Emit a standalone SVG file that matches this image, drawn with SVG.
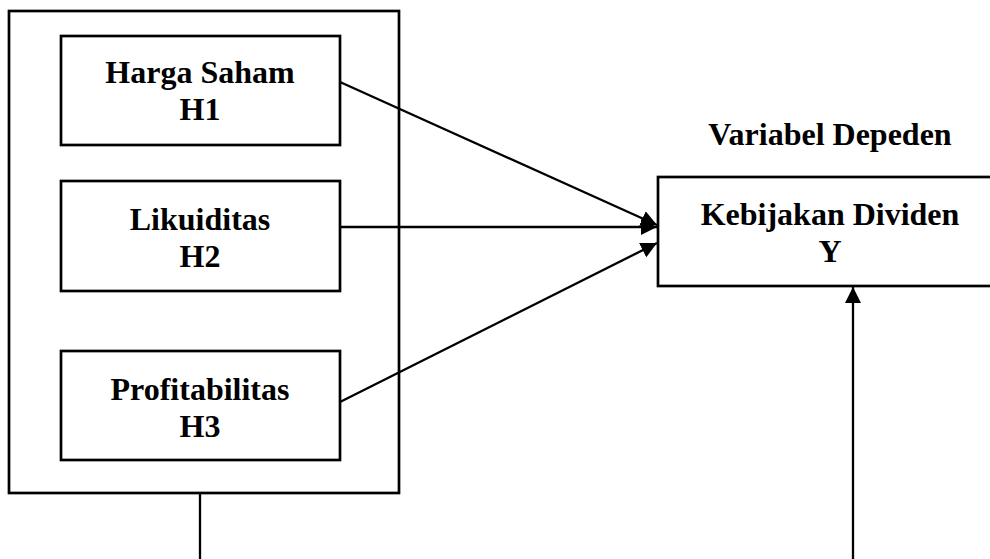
<svg xmlns="http://www.w3.org/2000/svg" width="990" height="559" viewBox="0 0 990 559">
<style>
.box{fill:#fff;stroke:#000;stroke-width:2.7}
.frame{fill:none;stroke:#000;stroke-width:2.7}
.t{font-family:"Liberation Serif","Times New Roman",serif;font-weight:bold;font-size:32px;text-anchor:middle;fill:#000}
.c{stroke:#000;stroke-width:2.3;fill:none}
</style>
<defs>
<marker id="ah" markerUnits="userSpaceOnUse" markerWidth="17" markerHeight="17" refX="16" refY="8" orient="auto">
<path d="M0,0 L16,8 L0,16 z" fill="#000"/>
</marker>
</defs>
<rect width="990" height="559" fill="#fff"/>
<g id="independent-frame">
<rect class="frame" x="9" y="11" width="390" height="482"/>
</g>
<g id="node-h1">
<rect class="box" x="61" y="36" width="279" height="109"/>
<text class="t" x="200" y="83">Harga Saham</text>
<text class="t" x="200" y="120">H1</text>
</g>
<g id="node-h2">
<rect class="box" x="61" y="181" width="279" height="110"/>
<text class="t" x="200" y="230">Likuiditas</text>
<text class="t" x="200" y="267">H2</text>
</g>
<g id="node-h3">
<rect class="box" x="61" y="351" width="279" height="109"/>
<text class="t" x="200" y="400">Profitabilitas</text>
<text class="t" x="200" y="437">H3</text>
</g>
<g id="label-dependent">
<text class="t" x="830" y="145">Variabel Depeden</text>
</g>
<g id="node-y">
<rect class="box" x="658" y="177" width="340" height="109"/>
<text class="t" x="830" y="225">Kebijakan Dividen</text>
<text class="t" x="830" y="262">Y</text>
</g>
<g id="connectors">
<line class="c" x1="340" y1="82" x2="657" y2="225" marker-end="url(#ah)"/>
<line class="c" x1="340" y1="227" x2="657" y2="227" marker-end="url(#ah)"/>
<line class="c" x1="340" y1="402" x2="657" y2="243" marker-end="url(#ah)"/>
<line class="c" x1="200" y1="493" x2="200" y2="559"/>
<line class="c" x1="853" y1="559" x2="853" y2="287" marker-end="url(#ah)"/>
</g>
</svg>
